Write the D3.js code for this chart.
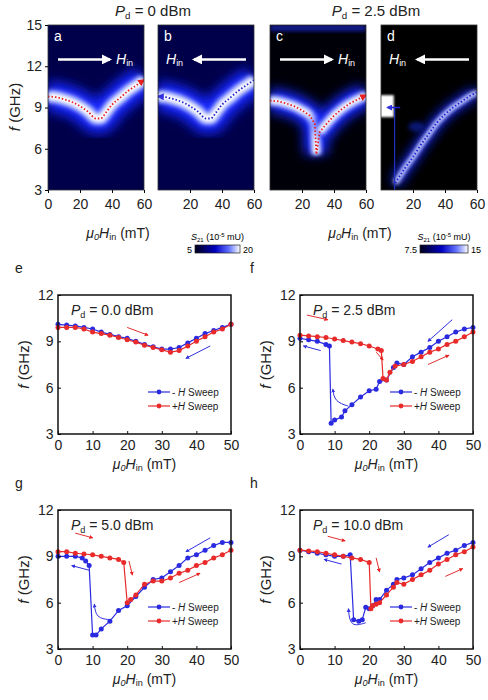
<!DOCTYPE html><html><head><meta charset="utf-8">
<script src="https://cdn.jsdelivr.net/npm/d3@7"></script>
<style>body{margin:0;background:#fff}text{font-family:Arial,"Liberation Sans",sans-serif}</style></head><body>
<svg id="c" width="488" height="700"></svg>
<script>
// ---- heatmap ridges (field mT, freq GHz)
const ridgeAB_H=[0,5,10,15,20,25,30,33,36,40,45,50,55,60];
const ridgeAB_F=[9.8,9.75,9.6,9.4,9.1,8.7,8.2,8.2,8.6,9.2,9.7,10.2,10.6,11.0];
const ridgeC1_H=[0,5,10,15,20,25,28,29];
const ridgeC1_F=[9.5,9.45,9.3,9.1,8.8,8.4,7.8,5.6];
const ridgeC2_H=[31,33,36,40,45,50,55,60];
const ridgeC2_F=[7.2,7.5,7.9,8.4,8.9,9.3,9.6,9.9];
const ridgeD_H=[9,15,20,25,30,35,40,45,50,55,60];
const ridgeD_F=[3.5,4.6,5.4,6.3,7.1,7.9,8.5,9.0,9.4,9.8,10.1];
const topXTicks=[[0,20,40,60],[20,40,60],[20,40,60],[20,40,60]];
const topYTicks=[3,6,9,12,15];
// ---- sweep data
const eBlueH=[0,2.5,5,7.5,10,12.5,15,17.5,20,22.5,25,27.5,30,32.5,35,37.5,40,42.5,45,47.5,50];
const eBlueF=[10.1,10.05,10.0,9.9,9.8,9.6,9.45,9.3,9.2,9.0,8.8,8.65,8.5,8.5,8.6,8.9,9.2,9.5,9.7,9.9,10.1];
const eRedH=eBlueH;
const eRedF=[9.9,9.9,9.9,9.8,9.6,9.5,9.4,9.25,9.1,8.95,8.75,8.6,8.45,8.3,8.4,8.7,9.0,9.3,9.6,9.8,10.1];
const fBlueH=[0,2.5,5,7.5,8.5,9,10,12,13,15,17.5,20,22,23,25,27,28,30,32.5,35,37.5,40,42.5,45,47.5,50];
const fBlueF=[9.2,9.1,9.0,8.8,8.7,3.7,3.9,4.1,4.5,4.9,5.4,5.8,5.9,6.4,6.5,7.3,7.6,7.5,8.0,8.3,8.6,9.0,9.3,9.6,9.8,9.9];
const fRedH=[0,2.5,5,7.5,10,12.5,15,17.5,20,22.5,23.5,24,25,26,27.5,30,32.5,35,37.5,40,42.5,45,47.5,50];
const fRedF=[9.4,9.35,9.3,9.25,9.15,9.05,8.95,8.85,8.7,8.5,8.4,6.6,6.5,7.0,7.4,7.5,7.7,8.0,8.3,8.5,8.8,9.0,9.3,9.6];
const gBlueH=[0,2.5,5,7,8,9,10,11,12.5,15,17.5,20,22.5,25,27.5,30,32.5,35,37.5,40,42.5,45,47.5,50];
const gBlueF=[9.0,9.0,9.0,8.9,8.7,8.4,3.9,3.9,4.3,4.8,5.5,5.8,6.4,7.0,7.5,7.6,8.0,8.4,8.9,9.1,9.4,9.7,9.9,9.9];
const gRedH=[0,2.5,5,7.5,10,12.5,15,17.5,19,20,21,22.5,25,27.5,30,32.5,35,37.5,40,42.5,45,47.5,50];
const gRedF=[9.3,9.3,9.2,9.15,9.1,9.0,8.9,8.8,8.6,6.0,6.2,6.5,7.2,7.4,7.4,7.6,7.9,8.1,8.4,8.6,8.9,9.1,9.4];
const hBlueH=[0,2.5,5,7.5,10,12.5,14.5,15.5,17,18,19,20,21,22,23,25,27,28,30,32.5,35,37.5,40,42.5,45,47.5,50];
const hBlueF=[9.4,9.3,9.2,9.1,9.0,9.0,9.1,4.9,4.8,4.9,5.7,5.6,5.8,6.2,6.2,6.8,7.2,7.5,7.6,7.8,8.2,8.6,8.9,9.2,9.4,9.7,9.9];
const hRedH=[0,2.5,5,7.5,10,12.5,15,17.5,20,20.5,21,22,23,25,27,28,30,32.5,35,37.5,40,42.5,45,47.5,50];
const hRedF=[9.4,9.35,9.3,9.2,9.1,9.0,8.9,8.8,8.6,5.6,5.8,5.9,6.0,6.5,7.0,7.3,7.2,7.5,7.8,8.1,8.5,8.8,9.1,9.3,9.6];
const botXTicks=[0,10,20,30,40,50];
const botYTicks=[3,6,9,12];

const svg=d3.select("#c");
const defs=svg.append("defs");
function blur(id,s){defs.append("filter").attr("id",id).attr("x","-50%").attr("y","-50%").attr("width","200%").attr("height","200%")
 .append("feGaussianBlur").attr("stdDeviation",s);}
blur("bl",6);blur("bl2",2.2);blur("bl3",1);
function mk(id,col){defs.append("marker").attr("id",id).attr("viewBox","0 0 10 10").attr("refX",8).attr("refY",5)
 .attr("markerWidth",4).attr("markerHeight",4).attr("orient","auto").append("path").attr("d","M0,0L10,5L0,10z").attr("fill",col);}
mk("aw","#fff");mk("ar","#e82020");mk("ab","#3030e0");
const zip=(a,b)=>a.map((v,i)=>[v,b[i]]);

const cg=defs.append("linearGradient").attr("id","cb");
[["0","#00001a"],["0.45","#0000c0"],["0.75","#6070ff"],["1","#ffffff"]].forEach(s=>cg.append("stop").attr("offset",s[0]).attr("stop-color",s[1]));

const topPanels=[
 {x0:48,bg:"#00004a",rid:[[ridgeAB_H,ridgeAB_F]],dots:[[ridgeAB_H,ridgeAB_F,"#e82020","ar",1]],label:"a",dir:1,xt:topXTicks[0]},
 {x0:158,bg:"#00004a",rid:[[ridgeAB_H,ridgeAB_F]],dots:[[ridgeAB_H,ridgeAB_F,"#2020d0","ab",-1]],label:"b",dir:-1,xt:topXTicks[1]},
 {x0:270,bg:"#000008",rid:[[ridgeC1_H,ridgeC1_F],[ridgeC2_H,ridgeC2_F]],dots:[[ridgeC1_H.concat(ridgeC2_H),ridgeC1_F.concat(ridgeC2_F),"#e82020","ar",1]],label:"c",dir:1,xt:topXTicks[2]},
 {x0:381,bg:"#000000",rid:[[ridgeD_H,ridgeD_F]],dots:[[ridgeD_H,ridgeD_F,"#2020d0",null,-1]],label:"d",dir:-1,xt:topXTicks[3]}
];
const tw=96,ty0=25,ty1=190;
topPanels.forEach((p,i)=>{
 const x=d3.scaleLinear().domain([0,60]).range([p.x0,p.x0+tw]);
 const y=d3.scaleLinear().domain([3,15]).range([ty1,ty0]);
 const g=svg.append("g");
 const cp="cp"+i;
 defs.append("clipPath").attr("id",cp).append("rect").attr("x",p.x0).attr("y",ty0).attr("width",tw).attr("height",ty1-ty0);
 g.append("rect").attr("x",p.x0).attr("y",ty0).attr("width",tw).attr("height",ty1-ty0).attr("fill",p.bg);
 const gc=g.append("g").attr("clip-path",`url(#${cp})`);
 const line=d3.line().x(d=>x(d[0])).y(d=>y(d[1])).curve(d3.curveMonotoneX);
 const lineP=d3.line().x(d=>x(d[0])).y(d=>y(d[1]));
 p.rid.forEach(r=>{
  const pts=zip(r[0],r[1]);
  const big=i<2?20:(i==2?16:7);
  const L=(i==3?lineP:line)(pts);
  gc.append("path").attr("d",L).attr("fill","none").attr("stroke","#1828ff").attr("stroke-width",big*1.5).attr("filter","url(#bl)");
  gc.append("path").attr("d",L).attr("fill","none").attr("stroke","#7080ff").attr("stroke-width",big*0.7).attr("filter","url(#bl2)");
  gc.append("path").attr("d",L).attr("fill","none").attr("stroke","#fff").attr("stroke-width",big*0.42).attr("filter","url(#bl2)");
 });
 if(i==3){gc.append("rect").attr("x",x(-2)).attr("y",y(9.9)).attr("width",x(8)-x(-2)).attr("height",y(8.3)-y(9.9)).attr("fill","#fff").attr("filter","url(#bl3)");
  gc.append("line").attr("x1",x(8.5)).attr("x2",x(8.5)).attr("y1",y(9)).attr("y2",y(3)).attr("stroke","#2030c0").attr("stroke-width",1.2);
  gc.append("ellipse").attr("cx",x(22)).attr("cy",y(7.6)).attr("rx",8).attr("ry",5).attr("fill","#1020a0").attr("filter","url(#bl2)").attr("opacity",0.7);}
 if(i==2){gc.append("rect").attr("x",p.x0).attr("y",ty0).attr("width",tw).attr("height",6).attr("fill","#2030ff").attr("filter","url(#bl2)").attr("opacity",0.6);}
 p.dots.forEach(dd=>{
  let pts=zip(dd[0],dd[1]); if(dd[4]<0)pts=pts.slice().reverse();
  const pp=gc.append("path").attr("d",(i==2?lineP:line)(pts)).attr("fill","none").attr("stroke",dd[2]).attr("stroke-width",1.8).attr("stroke-dasharray","1.5,2");
  if(dd[3])pp.attr("marker-end",`url(#${dd[3]})`);
 });
 if(i==3){gc.append("path").attr("d",lineP([[12,9],[4,9]])).attr("stroke","#2020d0").attr("stroke-width",1.5).attr("marker-end","url(#ab)");}
 g.append("text").attr("x",p.x0+6).attr("y",ty0+16).attr("fill","#fff").attr("font-size",14).text(p.label);
 const ay=y(12.5);
 if(p.dir>0){g.append("line").attr("x1",p.x0+10).attr("x2",p.x0+62).attr("y1",ay).attr("y2",ay).attr("stroke","#fff").attr("stroke-width",2.5).attr("marker-end","url(#aw)");
  const t=g.append("text").attr("x",p.x0+68).attr("y",ay+5).attr("fill","#fff").attr("font-size",14).attr("font-style","italic").text("H");t.append("tspan").attr("font-size",9).attr("font-style","normal").attr("dy",2).text("in");}
 else{const t=g.append("text").attr("x",p.x0+8).attr("y",ay+5).attr("fill","#fff").attr("font-size",14).attr("font-style","italic").text("H");t.append("tspan").attr("font-size",9).attr("font-style","normal").attr("dy",2).text("in");
  g.append("line").attr("x1",p.x0+88).attr("x2",p.x0+36).attr("y1",ay).attr("y2",ay).attr("stroke","#fff").attr("stroke-width",2.5).attr("marker-end","url(#aw)");}
 g.append("rect").attr("x",p.x0).attr("y",ty0).attr("width",tw).attr("height",ty1-ty0).attr("fill","none").attr("stroke","#333").attr("stroke-width",0.8);
 const xa=svg.append("g").attr("transform",`translate(0,${ty1})`).call(d3.axisBottom(x).tickValues(p.xt).tickSize(3).tickSizeOuter(0));
 xa.selectAll("text").attr("font-size",14).attr("fill","#222").attr("dy","0.9em");xa.select(".domain").remove();
 if(i==0){const ya=svg.append("g").attr("transform",`translate(${p.x0},0)`).call(d3.axisLeft(y).tickValues(topYTicks).tickSize(3).tickSizeOuter(0));
  ya.selectAll("text").attr("font-size",14).attr("fill","#222");ya.select(".domain").remove();}
});
function ylab(x,y,fs){const t=svg.append("text").attr("transform",`translate(${x},${y}) rotate(-90)`).attr("text-anchor","middle").attr("font-size",fs).attr("fill","#222");
 t.append("tspan").attr("font-style","italic").text("f");t.append("tspan").text(" (GHz)");}
function xlab(x,y,fs){const t=svg.append("text").attr("x",x).attr("y",y).attr("text-anchor","middle").attr("font-size",fs).attr("fill","#222");
 t.append("tspan").attr("font-style","italic").text("μ");t.append("tspan").attr("font-style","italic").attr("font-size",fs*0.65).attr("dy",2).text("0");
 t.append("tspan").attr("font-style","italic").attr("dy",-2).text("H");t.append("tspan").attr("font-size",fs*0.65).attr("dy",2).text("in");t.append("tspan").attr("dy",-2).text(" (mT)");}
function pd(x,y,fs,v){const t=svg.append("text").attr("x",x).attr("y",y).attr("font-size",fs).attr("fill","#222").attr("text-anchor","middle");
 t.append("tspan").attr("font-style","italic").text("P");t.append("tspan").attr("font-size",fs*0.65).attr("dy",3).text("d");t.append("tspan").attr("dy",-3).text(" = "+v);return t;}
ylab(20,107,15);
pd(153,16,15,"0 dBm");pd(376,16,15,"2.5 dBm");
xlab(118,238,14);xlab(360,238,14);
[[195,240,"5","20"],[420,468,"7.5","15"]].forEach(c=>{
 svg.append("rect").attr("x",c[0]).attr("y",245).attr("width",c[1]-c[0]).attr("height",8).attr("fill","url(#cb)").attr("stroke","#222").attr("stroke-width",0.7);
 svg.append("text").attr("x",c[0]-3).attr("y",253).attr("text-anchor","end").attr("font-size",9).text(c[2]);
 svg.append("text").attr("x",c[1]+3).attr("y",253).attr("font-size",9).text(c[3]);
 const t=svg.append("text").attr("x",(c[0]+c[1])/2).attr("y",240).attr("text-anchor","middle").attr("font-size",9);
 t.append("tspan").attr("font-style","italic").text("S");t.append("tspan").attr("font-size",6).attr("dy",2).text("21");t.append("tspan").attr("dy",-2).text(" (10");
 t.append("tspan").attr("font-size",6).attr("dy",-3).text("-5");t.append("tspan").attr("dy",3).text(" mU)");
});

const bot=[
 {x0:58,y0:295,lab:"e",lx:15,ly:273,pdv:"0.0 dBm",b:[eBlueH,eBlueF],r:[eRedH,eRedF],arrows:[[[20,9.9],[26,9.4],"ar"],[[44,8.7],[37,7.9],"ab"]],curl:null},
 {x0:300,y0:295,lab:"f",lx:250,ly:273,pdv:"2.5 dBm",b:[fBlueH,fBlueF],r:[fRedH,fRedF],arrows:[[[2,10.7],[8,10.4],"ar"],[[6,8.4],[1,8.7],"ab"],[[22,8.3],[24,7.8],"ar"],[[44,10.4],[37,9.0],"ab"],[[37,7.5],[43,8.1],"ar"]],curl:[[14,4.8],[10,5.1],[9.5,5.9]]},
 {x0:58,y0:510,lab:"g",lx:15,ly:488,pdv:"5.0 dBm",b:[gBlueH,gBlueF],r:[gRedH,gRedF],arrows:[[[5,10.5],[10,10.2],"ar"],[[9,8.1],[4,8.4],"ab"],[[20.5,8.7],[21.5,7.8],"ar"],[[44,10.2],[37,9.3],"ab"],[[35,7.3],[41,7.9],"ar"]],curl:[[15,4.9],[11,5.0],[10.5,5.9]]},
 {x0:300,y0:510,lab:"h",lx:250,ly:488,pdv:"10.0 dBm",b:[hBlueH,hBlueF],r:[hRedH,hRedF],arrows:[[[8,10.3],[13,10.0],"ar"],[[12,8.5],[7,8.8],"ab"],[[22,8.9],[23,8.0],"ar"],[[43,10.4],[37,9.6],"ab"],[[42,7.7],[47,8.2],"ar"]],curl:[[19,4.7],[14.5,4.4],[14,5.6]]}
];
const bw=173,bh=139;
bot.forEach(p=>{
 const x=d3.scaleLinear().domain([0,50]).range([p.x0,p.x0+bw]);
 const y=d3.scaleLinear().domain([3,12]).range([p.y0+bh,p.y0]);
 svg.append("text").attr("x",p.lx).attr("y",p.ly).attr("font-size",14).attr("fill","#222").text(p.lab);
 const g=svg.append("g");
 const line=d3.line().x(d=>x(d[0])).y(d=>y(d[1]));
 [[p.b,"#2a2ae0"],[p.r,"#e82a2a"]].forEach(s=>{
  const pts=zip(s[0][0],s[0][1]);
  g.append("path").attr("d",line(pts)).attr("fill","none").attr("stroke",s[1]).attr("stroke-width",1.2);
  g.selectAll(null).data(pts).enter().append("circle").attr("cx",d=>x(d[0])).attr("cy",d=>y(d[1])).attr("r",2.5).attr("fill",s[1]);
 });
 p.arrows.forEach(a=>{const col=a[2]=="ar"?"#e03030":"#3030e0";
  g.append("line").attr("x1",x(a[0][0])).attr("y1",y(a[0][1])).attr("x2",x(a[1][0])).attr("y2",y(a[1][1])).attr("stroke",col).attr("stroke-width",1).attr("marker-end",`url(#${a[2]})`);});
 if(p.curl)g.append("path").attr("d",d3.line().x(d=>x(d[0])).y(d=>y(d[1])).curve(d3.curveBasis)(p.curl)).attr("fill","none").attr("stroke","#3030e0").attr("stroke-width",1).attr("marker-end","url(#ab)");
 svg.append("rect").attr("x",p.x0).attr("y",p.y0).attr("width",bw).attr("height",bh).attr("fill","none").attr("stroke","#111").attr("stroke-width",1.5);
 const xa=svg.append("g").attr("transform",`translate(0,${p.y0+bh})`).call(d3.axisBottom(x).tickValues(botXTicks).tickSize(-3).tickSizeOuter(0));
 xa.selectAll("text").attr("font-size",14).attr("fill","#222").attr("dy","0.95em");xa.select(".domain").remove();
 xa.selectAll(".tick line").attr("stroke","#111");
 const ya=svg.append("g").attr("transform",`translate(${p.x0},0)`).call(d3.axisLeft(y).tickValues(botYTicks).tickSize(-3).tickSizeOuter(0));
 ya.selectAll("text").attr("font-size",14).attr("fill","#222").attr("dx","-0.1em");ya.select(".domain").remove();
 ylab(p.x0-29,p.y0+bh/2,15);
 xlab(p.x0+bw/2,p.y0+bh+35,14);
 pd(0,p.y0+20,14,p.pdv).attr("text-anchor","start").attr("x",p.x0+13);
 [["#2a2ae0"," - "],["#e82a2a","+"]].forEach((l,k)=>{const ly=p.y0+bh-42+k*14,lx=p.x0+bw-83;
  svg.append("line").attr("x1",lx).attr("x2",lx+22).attr("y1",ly).attr("y2",ly).attr("stroke",l[0]).attr("stroke-width",1.2);
  svg.append("circle").attr("cx",lx+11).attr("cy",ly).attr("r",2.4).attr("fill",l[0]);
  const t=svg.append("text").attr("x",lx+24).attr("y",ly+4).attr("font-size",10).attr("fill","#222");
  t.append("tspan").text(l[1]);t.append("tspan").attr("font-style","italic").text("H");t.append("tspan").text(" Sweep");});
});
</script></body></html>
